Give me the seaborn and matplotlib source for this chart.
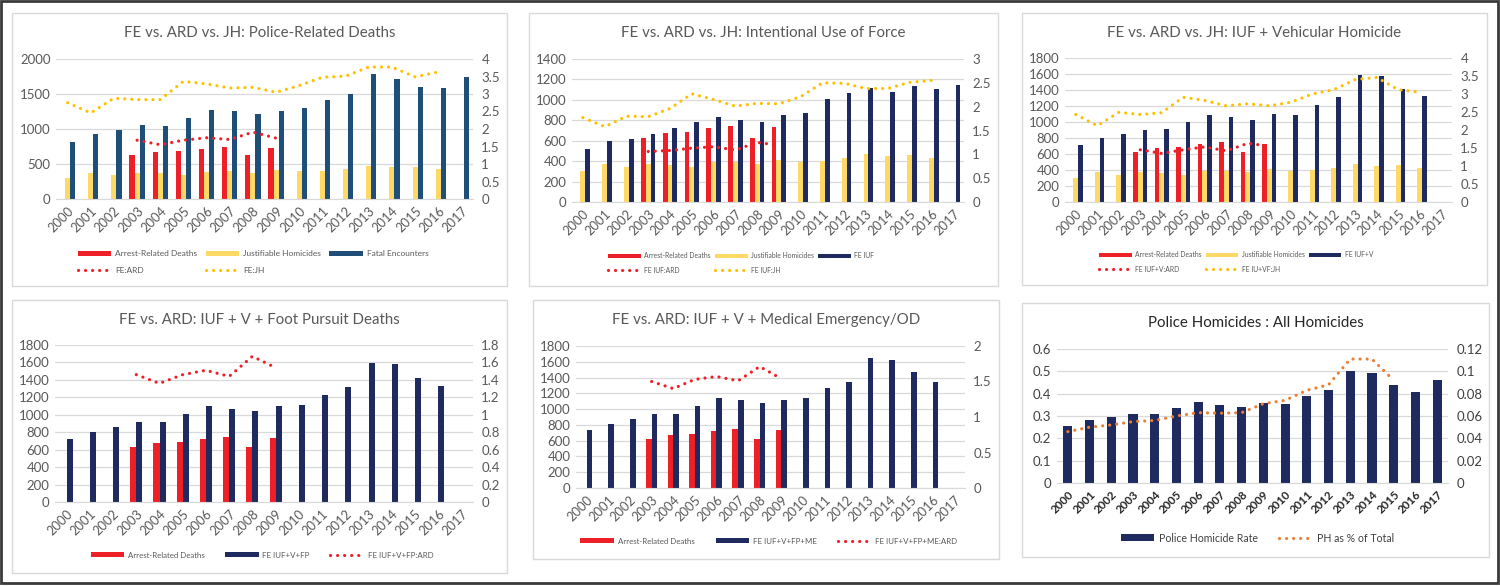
import numpy as np
import pandas as pd
import matplotlib.pyplot as plt
import seaborn as sns
from matplotlib.patches import Patch, Rectangle
from matplotlib.lines import Line2D
from matplotlib.ticker import FuncFormatter

nan = np.nan

# data
years = [str(y) for y in range(2000, 2018)]

ard = [nan, nan, nan, 626, 673, 687, 720, 744, 626, 730, nan, nan, nan, nan, nan, nan, nan, nan]
jh = [300, 374, 341, 374, 365, 341, 389, 393, 374, 412, 393, 403, 427, 474, 455, 460, 431, nan]
fe_total = [820, 924, 990, 1057, 1043, 1156, 1265, 1256, 1213, 1256, 1294, 1412, 1493, 1782, 1716, 1597, 1583, 1749]
fe_iuf = [523, 598, 617, 666, 724, 779, 835, 802, 783, 848, 867, 1004, 1065, 1120, 1078, 1140, 1111, 1143]
fe_iuf_v = [716, 804, 846, 904, 908, 1000, 1084, 1059, 1030, 1101, 1093, 1210, 1314, 1586, 1570, 1411, 1319, nan]
fe_iuf_v_fp = [722, 802, 864, 913, 913, 1009, 1100, 1066, 1047, 1100, 1108, 1223, 1318, 1597, 1586, 1421, 1326, nan]
fe_iuf_v_fp_me = [740, 816, 870, 938, 934, 1043, 1135, 1110, 1072, 1119, 1135, 1266, 1350, 1644, 1619, 1472, 1346, nan]
ph_rate = [0.255, 0.281, 0.296, 0.311, 0.310, 0.336, 0.362, 0.351, 0.339, 0.357, 0.353, 0.389, 0.418, 0.502, 0.491, 0.439, 0.406, 0.463]

# ratios
fe_ard = [nan, nan, nan, 1.68, 1.55, 1.68, 1.75, 1.70, 1.91, 1.74] + [nan] * 8
fe_jh = [2.75, 2.46, 2.88, 2.84, 2.84, 3.36, 3.29, 3.17, 3.19, 3.05, 3.24, 3.48, 3.51, 3.77, 3.77, 3.49, 3.63, nan]
iuf_ard = [nan, nan, nan, 1.06, 1.08, 1.13, 1.16, 1.09, 1.25, 1.19] + [nan] * 8
iuf_jh = [1.77, 1.58, 1.80, 1.79, 1.96, 2.27, 2.15, 2.01, 2.07, 2.06, 2.21, 2.50, 2.49, 2.38, 2.38, 2.51, 2.55, nan]
iufv_ard = [nan, nan, nan, 1.45, 1.35, 1.45, 1.53, 1.42, 1.63, 1.55] + [nan] * 8
iufv_jh = [2.43, 2.12, 2.49, 2.43, 2.48, 2.91, 2.82, 2.67, 2.73, 2.67, 2.77, 3.00, 3.12, 3.40, 3.46, 3.12, 3.05, nan]
iufvfp_ard = [nan, nan, nan, 1.46, 1.36, 1.46, 1.51, 1.44, 1.67, 1.54] + [nan] * 8
iufvfpme_ard = [nan, nan, nan, 1.50, 1.40, 1.53, 1.57, 1.51, 1.71, 1.54] + [nan] * 8
ph_pct = [0.046, 0.050, 0.052, 0.055, 0.056, 0.060, 0.063, 0.0625, 0.063, 0.071, 0.074, 0.083, 0.088, 0.111, 0.111, 0.092, nan, nan]

RED = '#EE2027'
YEL = '#FFD966'
BLUE1 = '#1F4E79'
NAVY = '#1F2A5E'
GOLD = '#FFC000'
ORANGE = '#ED7D31'
GRID = '#D9D9D9'
TXT = '#595959'

sns.set_style('white')
plt.rcParams['font.family'] = ['Lato', 'DejaVu Sans']

W, H = 1500, 586
fig = plt.figure(figsize=(15, 5.86), dpi=100)


def box(x0, y0, x1, y1, **kw):
    fig.patches.append(Rectangle((x0 / W, 1 - y1 / H), (x1 - x0) / W, (y1 - y0) / H,
                                 transform=fig.transFigure, fill=False, **kw))


def px_axes(x0, y0, x1, y1):
    return fig.add_axes([x0 / W, 1 - y1 / H, (x1 - x0) / W, (y1 - y0) / H])


fmt = FuncFormatter(lambda v, p: '{:g}'.format(round(v, 4)))
DOT = (0, (0.01, 2.2))


def panel(rect, title, tx, ty, bars, width, lines, ylim, ystep, y2lim, y2step,
          dark=False):
    ax = px_axes(*rect)
    rows = []
    for name, vals, col in bars:
        for y, v in zip(years, vals):
            rows.append({'year': y, 'value': v, 'series': name})
    df = pd.DataFrame(rows)
    names = [b[0] for b in bars]
    pal = {b[0]: b[2] for b in bars}
    sns.barplot(data=df, x='year', y='value', hue='series', order=years,
                hue_order=names, palette=pal, width=width, saturation=1,
                errorbar=None, legend=False, ax=ax, zorder=2, linewidth=0)
    ax.set_xlabel('')
    ax.set_ylabel('')
    ax.set_ylim(*ylim)
    ax.set_yticks(np.arange(ylim[0], ylim[1] + ystep / 2, ystep))
    ax.yaxis.set_major_formatter(fmt)
    ax.yaxis.grid(True, color=GRID, lw=0.9)
    ax.set_axisbelow(True)
    for s in ax.spines.values():
        s.set_visible(False)
    ax.spines['bottom'].set_visible(True)
    ax.spines['bottom'].set_color(GRID)
    tcol = '#404040' if dark else TXT
    ax.tick_params(length=0, labelsize=9.5, colors=tcol, pad=4)
    ax.set_xticks(range(len(years)))
    ax.set_xticklabels(years, rotation=45, ha='right', rotation_mode='anchor',
                       fontweight='bold' if dark else 'normal',
                       fontsize=8.3 if dark else 9.3,
                       color='#262626' if dark else TXT)

    ax2 = ax.twinx()
    idx = np.arange(len(years))
    for name, vals, col in lines:
        sns.lineplot(x=idx, y=vals, ax=ax2, color=col, lw=2.3, linestyle=DOT,
                     dash_capstyle='round')
    ax2.set_ylabel('')
    ax2.set_ylim(*y2lim)
    ax2.set_yticks(np.arange(y2lim[0], y2lim[1] + y2step / 2, y2step))
    ax2.yaxis.set_major_formatter(fmt)
    ax2.tick_params(length=0, labelsize=9.5, colors=tcol, pad=6)
    for s in ax2.spines.values():
        s.set_visible(False)
    ax.set_xlim(-0.5, len(years) - 0.5)

    fig.text(tx / W, 1 - ty / H, title, ha='center', va='center',
             fontsize=10.8, color='#262626' if dark else TXT)
    return ax


def legend(bars, lines, cx, cy, ncol, fs, colsp, hl, order=None, dark=False):
    hs = [Patch(facecolor=c, edgecolor='none') for _, _, c in bars]
    hs += [Line2D([], [], color=c, lw=2.3, linestyle=DOT, dash_capstyle='round')
           for _, _, c in lines]
    ls = [n for n, _, _ in bars] + [n for n, _, _ in lines]
    if order is not None:
        hs = [hs[i] for i in order]
        ls = [ls[i] for i in order]
    fig.legend(hs, ls, loc='center', bbox_to_anchor=(cx / W, 1 - cy / H), ncol=ncol,
               frameon=False, fontsize=fs, handlelength=hl, handleheight=0.65,
               handletextpad=0.5, columnspacing=colsp, labelspacing=1.1,
               borderpad=0, labelcolor='#404040' if dark else TXT)


# panel borders and outer frame
box(12, 13, 507, 286, edgecolor=GRID, lw=1)
box(529, 13, 998, 286, edgecolor=GRID, lw=1)
box(1022, 13, 1487, 285, edgecolor=GRID, lw=1)
box(12, 300, 507, 573, edgecolor=GRID, lw=1)
box(533, 300, 999, 559, edgecolor=GRID, lw=1)
box(1022, 303, 1489, 557, edgecolor=GRID, lw=1)
box(1, 1, 1498, 583, edgecolor='#3A3A3A', lw=2)

# 1 police-related deaths
b1 = [('Arrest-Related Deaths', ard, RED), ('Justifiable Homicides', jh, YEL),
      ('Fatal Encounters', fe_total, BLUE1)]
l1 = [('FE:ARD', fe_ard, RED), ('FE:JH', fe_jh, GOLD)]
panel((56, 59, 473, 199), 'FE vs. ARD vs. JH: Police-Related Deaths', 260, 33,
      b1, 0.66, l1, (0, 2000), 500, (0, 4), 0.5)
legend(b1, l1, 253, 262, 3, 6.0, 1.0, 4.0, order=[0, 3, 1, 4, 2])

# 2 intentional use of force
b2 = [('Arrest-Related Deaths', ard, RED), ('Justifiable Homicides', jh, YEL),
      ('FE IUF', fe_iuf, NAVY)]
l2 = [('FE IUF:ARD', iuf_ard, RED), ('FE IUF:JH', iuf_jh, GOLD)]
panel((572, 59, 964, 202), 'FE vs. ARD vs. JH: Intentional Use of Force', 763, 33,
      b2, 0.66, l2, (0, 1400), 200, (0, 3), 0.5)
legend(b2, l2, 741, 263, 3, 4.9, 0.6, 4.8, order=[0, 3, 1, 4, 2])

# 3 IUF + vehicular
b3 = [('Arrest-Related Deaths', ard, RED), ('Justifiable Homicides', jh, YEL),
      ('FE IUF+V', fe_iuf_v, NAVY)]
l3 = [('FE IUF+V:ARD', iufv_ard, RED), ('FE IU+VF:JH', iufv_jh, GOLD)]
panel((1065, 58, 1452, 202), 'FE vs. ARD vs. JH: IUF + Vehicular Homicide', 1254, 33,
      b3, 0.66, l3, (0, 1800), 200, (0, 4), 0.5)
legend(b3, l3, 1236, 262, 3, 4.9, 0.6, 4.8, order=[0, 3, 1, 4, 2])

# 4 foot pursuit
b4 = [('Arrest-Related Deaths', ard, RED), ('FE IUF+V+FP', fe_iuf_v_fp, NAVY)]
l4 = [('FE IUF+V+FP:ARD', iufvfp_ard, RED)]
panel((55, 345, 473, 502), 'FE vs. ARD: IUF + V + Foot Pursuit Deaths', 259, 320,
      b4, 0.52, l4, (0, 1800), 200, (0, 1.8), 0.2)
legend(b4, l4, 262, 555, 3, 5.7, 2.6, 4.2)

# 5 medical emergency
b5 = [('Arrest-Related Deaths', ard, RED), ('FE IUF+V+FP+ME', fe_iuf_v_fp_me, NAVY)]
l5 = [('FE IUF+V+FP+ME:ARD', iufvfpme_ard, RED)]
panel((576, 346, 965, 488), 'FE vs. ARD: IUF + V + Medical Emergency/OD', 766, 320,
      b5, 0.52, l5, (0, 1800), 200, (0, 2), 0.5)
legend(b5, l5, 769, 541, 3, 5.7, 2.7, 4.2)

# 6 police homicides share
b6 = [('Police Homicide Rate', ph_rate, NAVY)]
l6 = [('PH as % of Total', ph_pct, ORANGE)]
panel((1057, 349, 1448, 483), 'Police Homicides : All Homicides', 1256, 323,
      b6, 0.42, l6, (0, 0.6), 0.1, (0, 0.12), 0.02, dark=True)
legend(b6, l6, 1258, 538, 2, 7.6, 2.0, 3.1, dark=True)

fig.savefig('out.png', dpi=100, facecolor='white')
